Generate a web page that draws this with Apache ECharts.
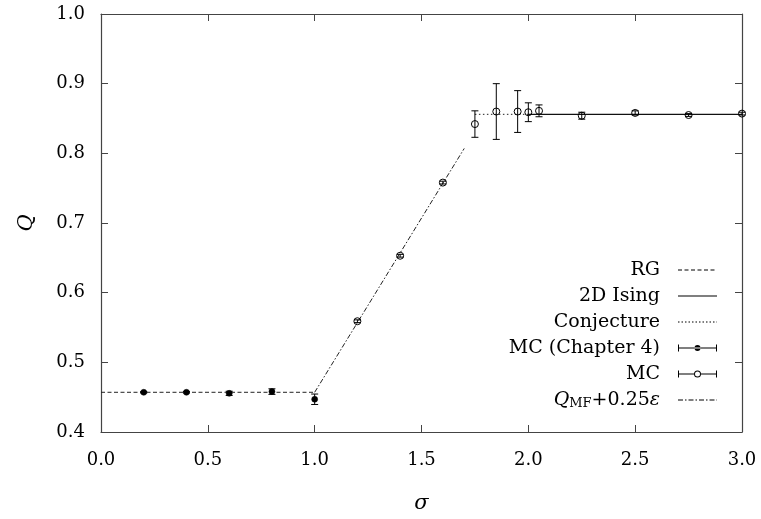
<!DOCTYPE html>
<html>
<head>
<meta charset="utf-8">
<script src="https://cdn.jsdelivr.net/npm/echarts@6/dist/echarts.min.js"></script>
<style>html,body{margin:0;padding:0;background:#fff}#c{width:761px;height:519px}</style>
</head>
<body>
<div id="c"></div>
<script>
// ---- data ----
var xTicks = [0.0, 0.5, 1.0, 1.5, 2.0, 2.5, 3.0];
var yTicks = [0.4, 0.5, 0.6, 0.7, 0.8, 0.9, 1.0];

var rgX = [0.0, 1.0];
var rgQ = [0.457, 0.457];

var isingX = [2.0, 3.0];
var isingQ = [0.856, 0.856];

var conjX = [1.75, 2.0];
var conjQ = [0.856, 0.856];

var mfX = [1.0, 1.7];
var mfQ = [0.457, 0.807];

var ch4Sigma = [0.2, 0.4, 0.6, 0.8, 1.0];
var ch4Q     = [0.457, 0.457, 0.4555, 0.458, 0.447];
var ch4Err   = [0.001, 0.001, 0.003, 0.004, 0.0075];

var mcSigma = [1.2, 1.4, 1.6, 1.75, 1.85, 1.95, 2.0, 2.05, 2.25, 2.5, 2.75, 3.0];
var mcQ     = [0.559, 0.653, 0.758, 0.842, 0.860, 0.860, 0.859, 0.861, 0.854, 0.858, 0.855, 0.857];
var mcErr   = [0.002, 0.002, 0.002, 0.019, 0.040, 0.030, 0.0135, 0.0085, 0.005, 0.003, 0.002, 0.002];

var legendNames = ['RG', '2D Ising', 'Conjecture', 'MC (Chapter 4)', 'MC', 'Q_MF+0.25ε'];

// ---- helpers ----
function zip2(a, b) { return a.map(function (v, i) { return [v, b[i]]; }); }
function zip3(a, b, c) { return a.map(function (v, i) { return [v, b[i], c[i]]; }); }

var FONT = 'DejaVu Serif';
var INK = '#000';
var AX = '#444';

// legend icon paths, bounding box 52 x 8
var ANCH = 'M0 0h0.05v0.05h-0.05Z M51.95 7.95h0.05v0.05h-0.05Z ';
function rect(x, y, w, h) { return 'M' + x + ' ' + y + 'h' + w + 'v' + h + 'h' + (-w) + 'Z '; }
function patt(segs, from, to) {
  var p = '', x = from, i = 0;
  while (x < to) {
    var s = segs[i % segs.length];
    if (i % 2 === 0) p += rect(x, 3.5, Math.min(s, to - x), 1);
    x += s; i++;
  }
  return p;
}
var iconRG = 'path://' + ANCH + patt([4, 2.5], 13, 52);
var iconIsing = 'path://' + ANCH + rect(13, 3.5, 39, 1);
var iconConj = 'path://' + ANCH + patt([1.5, 2], 13, 52);
var iconMF = 'path://' + ANCH + patt([5, 2, 1.5, 2], 13, 52);
var iconCh4 = 'path://' + ANCH + rect(13, 3.5, 39, 1) + rect(13, 0.5, 1, 7) + rect(51, 0.5, 1, 7) +
  'M35.5 4A3 3 0 1 0 29.5 4A3 3 0 1 0 35.5 4Z';
var iconMC = 'path://' + ANCH + rect(13, 3.5, 16, 1) + rect(36, 3.5, 16, 1) + rect(13, 0.5, 1, 7) + rect(51, 0.5, 1, 7) +
  'M36 4A3.5 3.5 0 1 0 29 4A3.5 3.5 0 1 0 36 4Z M35 4A2.5 2.5 0 1 1 30 4A2.5 2.5 0 1 1 35 4Z';

function errRender(filled) {
  return function (params, api) {
    var x = api.value(0), y = api.value(1), e = api.value(2);
    var c = api.coord([x, y]);
    var t = api.coord([x, y + e]);
    var b = api.coord([x, y - e]);
    var hw = 3.5;
    var ls = { stroke: INK, lineWidth: 1 };
    var kids = [
      { type: 'line', shape: { x1: c[0], y1: t[1], x2: c[0], y2: b[1] }, style: ls },
      { type: 'line', shape: { x1: c[0] - hw, y1: t[1], x2: c[0] + hw, y2: t[1] }, style: ls },
      { type: 'line', shape: { x1: c[0] - hw, y1: b[1], x2: c[0] + hw, y2: b[1] }, style: ls }
    ];
    if (filled) {
      kids.push({ type: 'circle', shape: { cx: c[0], cy: c[1], r: 3 }, style: { fill: INK, stroke: INK, lineWidth: 0.5 } });
    } else {
      kids.push({ type: 'circle', shape: { cx: c[0], cy: c[1], r: 3.5 }, style: { fill: 'none', stroke: INK, lineWidth: 1 } });
    }
    return { type: 'group', children: kids };
  };
}

function axisCommon(extra) {
  var base = {
    type: 'value',
    axisLine: { show: true, onZero: false, lineStyle: { color: AX, width: 1.2 } },
    axisTick: { show: true, inside: true, length: 7, lineStyle: { color: AX, width: 1 } },
    splitLine: { show: false }
  };
  for (var k in extra) base[k] = extra[k];
  return base;
}

var chart = echarts.init(document.getElementById('c'), null, { renderer: 'canvas' });
var option = {
  animation: false,
  backgroundColor: '#fff',
  grid: { left: 101, right: 19, top: 14, bottom: 82, containLabel: false },
  xAxis: [
    axisCommon({
      position: 'bottom', min: xTicks[0], max: xTicks[xTicks.length - 1], interval: 0.5,
      axisLabel: { margin: 19, color: INK, fontFamily: FONT, fontSize: 18, formatter: function (v) { return v.toFixed(1); } },
      name: 'σ', nameLocation: 'middle', nameGap: 61,
      nameTextStyle: { color: INK, fontFamily: FONT, fontSize: 21, fontStyle: 'italic' }
    }),
    axisCommon({
      position: 'top', min: xTicks[0], max: xTicks[xTicks.length - 1], interval: 0.5,
      axisLabel: { show: false }
    })
  ],
  yAxis: [
    axisCommon({
      position: 'left', min: yTicks[0], max: yTicks[yTicks.length - 1], interval: 0.1,
      axisLabel: { margin: 16, color: INK, fontFamily: FONT, fontSize: 18, formatter: function (v) { return v.toFixed(1); } },
      name: 'Q', nameLocation: 'middle', nameGap: 64, nameRotate: 90,
      nameTextStyle: { color: INK, fontFamily: FONT, fontSize: 21, fontStyle: 'italic' }
    }),
    axisCommon({
      position: 'right', min: yTicks[0], max: yTicks[yTicks.length - 1], interval: 0.1,
      axisLabel: { show: false }
    })
  ],
  legend: {
    orient: 'vertical',
    align: 'right',
    right: 44,
    top: 260,
    padding: 0,
    itemWidth: 52,
    itemHeight: 8,
    itemGap: 6,
    selectedMode: false,
    itemStyle: { borderWidth: 0 },
    textStyle: {
      color: INK, fontFamily: FONT, fontSize: 19, lineHeight: 20,
      rich: {
        qi: { fontFamily: FONT, fontSize: 19, fontStyle: 'italic', lineHeight: 20, color: INK },
        sub: { fontFamily: FONT, fontSize: 13, lineHeight: 10, verticalAlign: 'bottom', color: INK },
        rm: { fontFamily: FONT, fontSize: 19, lineHeight: 20, color: INK }
      }
    },
    formatter: function (name) {
      if (name === legendNames[5]) return '{qi|Q}{sub|MF}{rm|+0.25}{qi|ε}';
      return name;
    },
    data: [
      { name: legendNames[0], icon: iconRG },
      { name: legendNames[1], icon: iconIsing },
      { name: legendNames[2], icon: iconConj },
      { name: legendNames[3], icon: iconCh4 },
      { name: legendNames[4], icon: iconMC },
      { name: legendNames[5], icon: iconMF }
    ]
  },
  series: [
    {
      name: legendNames[0], type: 'line', data: zip2(rgX, rgQ), showSymbol: false, symbol: 'none',
      color: INK, itemStyle: { color: INK },
      lineStyle: { color: '#222', width: 1, type: [4, 2.5] }
    },
    {
      name: legendNames[1], type: 'line', data: zip2(isingX, isingQ), showSymbol: false, symbol: 'none',
      color: INK, itemStyle: { color: INK },
      lineStyle: { color: '#111', width: 1.2, type: 'solid' }
    },
    {
      name: legendNames[2], type: 'line', data: zip2(conjX, conjQ), showSymbol: false, symbol: 'none',
      color: INK, itemStyle: { color: INK },
      lineStyle: { color: '#222', width: 1, type: [1.5, 2.5] }
    },
    {
      name: legendNames[5], type: 'line', data: zip2(mfX, mfQ), showSymbol: false, symbol: 'none',
      color: INK, itemStyle: { color: INK },
      lineStyle: { color: '#222', width: 1, type: [5, 2, 1.5, 2] }
    },
    {
      name: legendNames[3], type: 'custom', data: zip3(ch4Sigma, ch4Q, ch4Err),
      color: INK, itemStyle: { color: INK },
      renderItem: errRender(true), encode: { x: 0, y: 1 }, z: 5
    },
    {
      name: legendNames[4], type: 'custom', data: zip3(mcSigma, mcQ, mcErr),
      color: INK, itemStyle: { color: INK },
      renderItem: errRender(false), encode: { x: 0, y: 1 }, z: 5
    }
  ]
};
chart.setOption(option);
</script>
</body>
</html>
